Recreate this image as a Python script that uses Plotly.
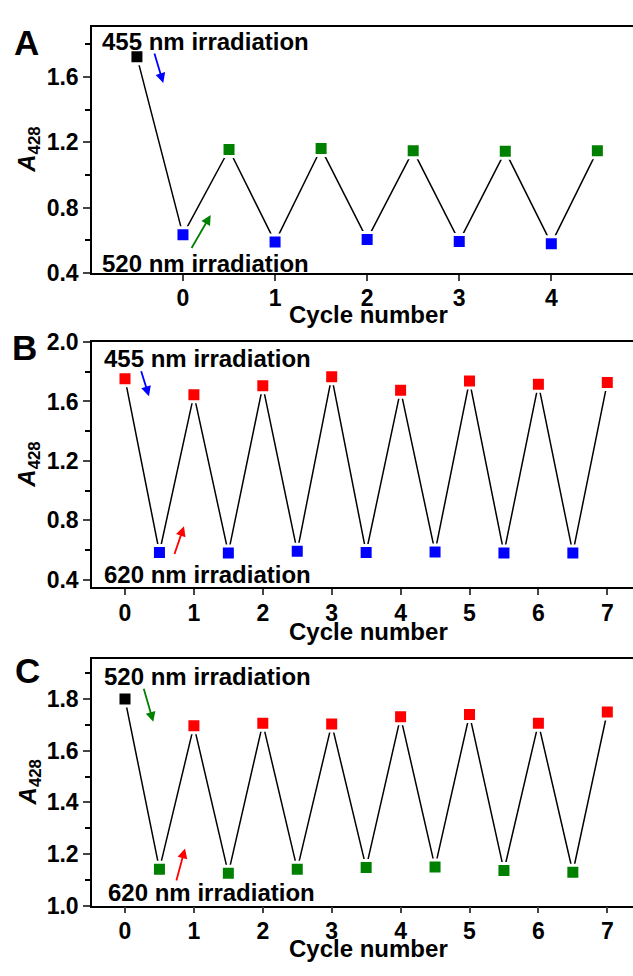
import plotly.graph_objects as go

# ---------------- data ----------------
A_x = [-0.5, 0, 0.5, 1, 1.5, 2, 2.5, 3, 3.5, 4, 4.5]
A_y = [1.724, 0.633, 1.156, 0.589, 1.162, 0.605, 1.149, 0.593, 1.145, 0.579, 1.149]
A_colors = ["#000000", "#0000FF", "#008000", "#0000FF", "#008000", "#0000FF",
            "#008000", "#0000FF", "#008000", "#0000FF", "#008000"]

B_x = [0, 0.5, 1, 1.5, 2, 2.5, 3, 3.5, 4, 4.5, 5, 5.5, 6, 6.5, 7]
B_y = [1.753, 0.584, 1.646, 0.581, 1.705, 0.592, 1.766, 0.584, 1.676, 0.588,
       1.738, 0.581, 1.716, 0.581, 1.727]
B_colors = ["#FF0000", "#0000FF"] * 7 + ["#FF0000"]

C_x = [0, 0.5, 1, 1.5, 2, 2.5, 3, 3.5, 4, 4.5, 5, 5.5, 6, 6.5, 7]
C_y = [1.800, 1.141, 1.697, 1.125, 1.706, 1.141, 1.703, 1.147, 1.731, 1.149,
       1.740, 1.136, 1.706, 1.129, 1.750]
C_colors = ["#000000"] + ["#008000", "#FF0000"] * 7

A_ticks = [0, 1, 2, 3, 4]
BC_ticks = [0, 1, 2, 3, 4, 5, 6, 7]

W, H = 633, 976
FONT = "Liberation Sans"

fig = go.Figure()

panels = [
    (A_x, A_y, A_colors, "x", "y"),
    (B_x, B_y, B_colors, "x2", "y2"),
    (C_x, C_y, C_colors, "x3", "y3"),
]
for xs, ys, cols, xa, ya in panels:
    fig.add_trace(go.Scatter(
        x=xs, y=ys, mode="lines", xaxis=xa, yaxis=ya,
        line=dict(color="black", width=1.5), showlegend=False, hoverinfo="skip"))
    fig.add_trace(go.Scatter(
        x=xs, y=ys, mode="markers", xaxis=xa, yaxis=ya,
        marker=dict(symbol="square", size=14, color=cols,
                    line=dict(color="white", width=3)),
        showlegend=False))

def py(p):
    return 1 - p / H

tickfont = dict(family=FONT, size=23, color="black", weight="bold")

def xax(rng, ticks, anchor):
    return dict(range=rng, tickvals=ticks, ticks="outside", ticklen=6, tickwidth=1.5,
                showline=True, linecolor="black", linewidth=1.5, mirror=True,
                showgrid=False, zeroline=False, tickfont=tickfont, anchor=anchor,
                ticklabelstandoff=-2, domain=[0, 1])

def yax(rng, dtick, tick0, mdtick, dom, anchor):
    return dict(range=rng, dtick=dtick, tick0=tick0, tickformat=".1f",
                ticks="outside", ticklen=7, tickwidth=1.5,
                minor=dict(dtick=mdtick, tick0=tick0, ticks="outside", ticklen=5,
                           tickwidth=1.5, tickcolor="black", showgrid=False),
                showline=True, linecolor="black", linewidth=1.5, mirror=False,
                showgrid=False, zeroline=False, tickfont=tickfont, anchor=anchor,
                domain=dom)

fig.update_layout(
    width=W, height=H,
    margin=dict(l=92, r=0, t=0, b=0),
    plot_bgcolor="white", paper_bgcolor="white",
    xaxis=xax([-0.988, 4.887], A_ticks, "y"),
    yaxis=yax([0.4, 1.909], 0.4, 0.4, 0.2, [py(267), py(14)], "x"),
    xaxis2=xax([-0.479, 7.373], BC_ticks, "y2"),
    yaxis2=yax([0.35, 2.0], 0.4, 0.4, 0.2, [py(590), py(338)], "x2"),
    xaxis3=xax([-0.479, 7.373], BC_ticks, "y3"),
    yaxis3=yax([1.0, 1.954], 0.2, 1.0, 0.1, [py(917), py(664)], "x3"),
)

ann = []
txtfont = dict(family=FONT, size=24, color="black", weight="bold")

# panel letters
for letter, ycen, xcen in [("A", 30.5, 26), ("B", 344, 24), ("C", 676, 27)]:
    ann.append(dict(text=letter, xref="paper", yref="paper",
                    x=(xcen - 92) / (W - 92), y=py(ycen), xanchor="center", yanchor="middle",
                    showarrow=False, font=dict(family=FONT, size=35, color="black", weight="bold")))

# y-axis titles and x-axis titles
for ycen, xt in [(140.5, 310), (464, 635), (790.5, 961)]:
    ann.append(dict(text="<i>A</i><sub>428</sub>", xref="paper", yref="paper",
                    x=(29 - 92) / (W - 92), y=py(ycen), xanchor="center", yanchor="middle",
                    textangle=-90, showarrow=False, font=txtfont))
    ann.append(dict(text="Cycle number", xref="paper", yref="paper",
                    x=(368 - 92) / (W - 92), y=py(xt), xanchor="center", yanchor="middle",
                    showarrow=False, font=txtfont))

# irradiation labels
labels = [
    ("455 nm irradiation", "x", "y", -0.901, 1.819),
    ("520 nm irradiation", "x", "y", -0.901, 0.46),
    ("455 nm irradiation", "x2", "y2", -0.334, 1.89),
    ("620 nm irradiation", "x2", "y2", -0.334, 0.437),
    ("520 nm irradiation", "x3", "y3", -0.334, 1.888),
    ("620 nm irradiation", "x3", "y3", -0.276, 1.051),
]
for t, xr, yr, x, y in labels:
    ann.append(dict(text=t, xref=xr, yref=yr, x=x, y=y, xanchor="left", yanchor="middle",
                    showarrow=False, font=txtfont))

# arrows: (xref, yref, tail x, tail y, head x, head y, colour)
arrows = [
    ("x", "y", -0.315, 1.753, -0.214, 1.564, "#0000FF"),
    ("x", "y", 0.084, 0.543, 0.301, 0.755, "#008000"),
    ("x2", "y2", 0.228, 1.814, 0.348, 1.635, "#0000FF"),
    ("x2", "y2", 0.711, 0.564, 0.856, 0.761, "#FF0000"),
    ("x3", "y3", 0.266, 1.846, 0.411, 1.712, "#008000"),
    ("x3", "y3", 0.740, 1.091, 0.871, 1.221, "#FF0000"),
]
for xr, yr, tx, ty, hx, hy, c in arrows:
    ann.append(dict(text="", xref=xr, yref=yr, x=hx, y=hy, ax=tx, ay=ty,
                    axref=xr, ayref=yr, showarrow=True, arrowhead=2, arrowsize=1.1,
                    arrowwidth=1.8, arrowcolor=c))

fig.update_layout(annotations=ann)

fig.write_html("out.html")
